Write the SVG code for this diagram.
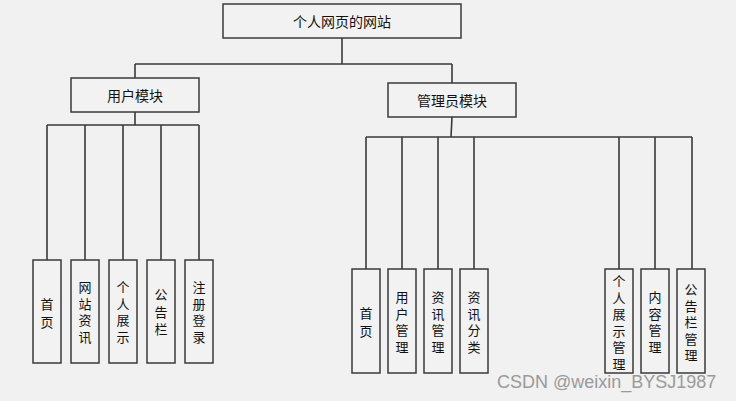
<svg xmlns="http://www.w3.org/2000/svg" width="736" height="401" viewBox="0 0 736 401">
<style>
.bg{fill:#f1f1f1}
.box{fill:#f2f2f2;stroke:#3a3a3a;stroke-width:1.5}
.ln{fill:none;stroke:#3a3a3a;stroke-width:1.6}
.t{font-family:"Noto Sans CJK SC","Noto Sans",sans-serif;font-size:14px;fill:#111;text-anchor:middle;dominant-baseline:central}
.v{font-family:"Noto Sans CJK SC","Noto Sans",sans-serif;font-size:13px;fill:#111;text-anchor:middle;dominant-baseline:central}
.wm{font-family:"Liberation Sans",Arial,sans-serif;font-size:18px;fill:#9a9a9a}
</style>
<rect class="bg" x="0" y="0" width="736" height="401"/>
<g id="connectors">
<path class="ln" d="M342 38V64M135 64H452M135 64V78M452 64V83"/>
<path class="ln" d="M135 112V125M47 125H199M47 125V260M85 125V260M123 125V260M161 125V260M199 125V260"/>
<path class="ln" d="M452 117L451 137M366 137H692M366 137V269M402 137V269M438 137V269M474 137V269M619 137V269M655 137V269M692 137V269"/>
</g>
<g id="root"><rect class="box" x="223" y="4" width="238" height="34"/><text class="t" x="342" y="21">个人网页的网站</text></g>
<g id="user"><rect class="box" x="71" y="78" width="128" height="34"/><text class="t" x="135" y="95">用户模块</text></g>
<g id="admin"><rect class="box" x="388" y="83" width="128" height="34"/><text class="t" x="452" y="100">管理员模块</text></g>
<g id="u1"><rect class="box" x="33" y="260" width="28" height="103"/><text class="v" x="47" y="303"><tspan x="47">首</tspan><tspan x="47" dy="18">页</tspan></text></g>
<g id="u2"><rect class="box" x="71" y="260" width="28" height="103"/><text class="v" x="85" y="286"><tspan x="85">网</tspan><tspan x="85" dy="16.5">站</tspan><tspan x="85" dy="16.5">资</tspan><tspan x="85" dy="16.5">讯</tspan></text></g>
<g id="u3"><rect class="box" x="109" y="260" width="28" height="103"/><text class="v" x="123" y="286"><tspan x="123">个</tspan><tspan x="123" dy="16.5">人</tspan><tspan x="123" dy="16.5">展</tspan><tspan x="123" dy="16.5">示</tspan></text></g>
<g id="u4"><rect class="box" x="147" y="260" width="28" height="103"/><text class="v" x="161" y="293"><tspan x="161">公</tspan><tspan x="161" dy="17.5">告</tspan><tspan x="161" dy="17.5">栏</tspan></text></g>
<g id="u5"><rect class="box" x="185" y="260" width="28" height="103"/><text class="v" x="199" y="286"><tspan x="199">注</tspan><tspan x="199" dy="16.5">册</tspan><tspan x="199" dy="16.5">登</tspan><tspan x="199" dy="16.5">录</tspan></text></g>
<g id="a1"><rect class="box" x="352" y="269" width="28" height="104"/><text class="v" x="366" y="312"><tspan x="366">首</tspan><tspan x="366" dy="18">页</tspan></text></g>
<g id="a2"><rect class="box" x="388" y="269" width="28" height="104"/><text class="v" x="402" y="296"><tspan x="402">用</tspan><tspan x="402" dy="16.5">户</tspan><tspan x="402" dy="16.5">管</tspan><tspan x="402" dy="16.5">理</tspan></text></g>
<g id="a3"><rect class="box" x="424" y="269" width="28" height="104"/><text class="v" x="438" y="296"><tspan x="438">资</tspan><tspan x="438" dy="16.5">讯</tspan><tspan x="438" dy="16.5">管</tspan><tspan x="438" dy="16.5">理</tspan></text></g>
<g id="a4"><rect class="box" x="460" y="269" width="28" height="104"/><text class="v" x="474" y="296"><tspan x="474">资</tspan><tspan x="474" dy="16.5">讯</tspan><tspan x="474" dy="16.5">分</tspan><tspan x="474" dy="16.5">类</tspan></text></g>
<g id="a5"><rect class="box" x="605" y="269" width="28" height="104"/><text class="v" x="619" y="280"><tspan x="619">个</tspan><tspan x="619" dy="16.5">人</tspan><tspan x="619" dy="16.5">展</tspan><tspan x="619" dy="16.5">示</tspan><tspan x="619" dy="16.5">管</tspan><tspan x="619" dy="16.5">理</tspan></text></g>
<g id="a6"><rect class="box" x="641" y="269" width="28" height="104"/><text class="v" x="655" y="296"><tspan x="655">内</tspan><tspan x="655" dy="16.5">容</tspan><tspan x="655" dy="16.5">管</tspan><tspan x="655" dy="16.5">理</tspan></text></g>
<g id="a7"><rect class="box" x="677" y="269" width="28" height="104"/><text class="v" x="691" y="288"><tspan x="691">公</tspan><tspan x="691" dy="16.5">告</tspan><tspan x="691" dy="16.5">栏</tspan><tspan x="691" dy="16.5">管</tspan><tspan x="691" dy="16.5">理</tspan></text></g>
<text class="wm" x="497" y="388">CSDN @weixin_BYSJ1987</text>
</svg>
